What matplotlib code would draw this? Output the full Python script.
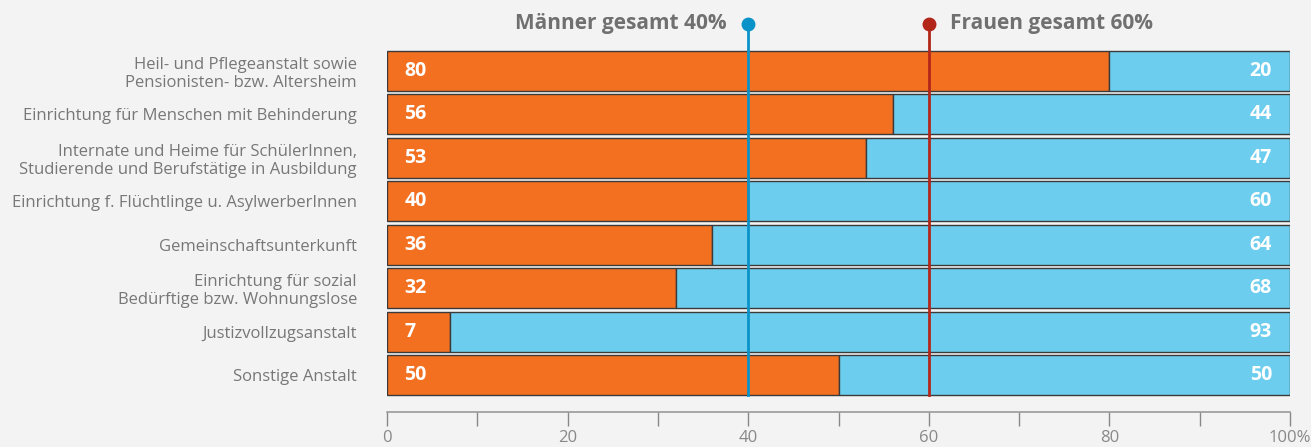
import numpy as np
import matplotlib.pyplot as plt
from matplotlib.ticker import MultipleLocator, FuncFormatter

categories = [
    "Heil- und Pflegeanstalt sowie\nPensionisten- bzw. Altersheim",
    "Einrichtung für Menschen mit Behinderung",
    "Internate und Heime für SchülerInnen,\nStudierende und Berufstätige in Ausbildung",
    "Einrichtung f. Flüchtlinge u. AsylwerberInnen",
    "Gemeinschaftsunterkunft",
    "Einrichtung für sozial\nBedürftige bzw. Wohnungslose",
    "Justizvollzugsanstalt",
    "Sonstige Anstalt",
]
frauen = [80, 56, 53, 40, 36, 32, 7, 50]
maenner = [20, 44, 47, 60, 64, 68, 93, 50]
maenner_gesamt = 40
frauen_gesamt = 60

orange = "#f37021"
blue = "#6dcdee"
line_blue = "#0a93c9"
line_red = "#b3261a"
bg = "#f3f3f3"

plt.rcParams['font.family'] = ['Open Sans', 'DejaVu Sans']

fig = plt.figure(figsize=(13.11, 4.47), dpi=100, facecolor=bg)
ax = fig.add_axes([387 / 1311, 35 / 447, (1290 - 387) / 1311, 412 / 447])
ax.set_facecolor(bg)

y = np.arange(len(categories))
h = 0.92
ax.barh(y, frauen, height=h, color=orange, edgecolor="#3a3a3a", linewidth=1, zorder=2)
ax.barh(y, maenner, left=frauen, height=h, color=blue, edgecolor="#3a3a3a", linewidth=1, zorder=2)

for i in range(len(categories)):
    ax.text(1.9, y[i], str(frauen[i]), color="white", fontsize=14, fontweight="bold",
            ha="left", va="center", zorder=4)
    ax.text(98, y[i], str(maenner[i]), color="white", fontsize=14, fontweight="bold",
            ha="right", va="center", zorder=4)

mark_y = -1.08
bottom = len(categories) - 1 + h / 2
ax.plot([maenner_gesamt, maenner_gesamt], [mark_y, bottom], color=line_blue, lw=2, zorder=3)
ax.plot([frauen_gesamt, frauen_gesamt], [mark_y, bottom], color=line_red, lw=2, zorder=3)
ax.plot(maenner_gesamt, mark_y, "o", color=line_blue, ms=9, zorder=3, clip_on=False)
ax.plot(frauen_gesamt, mark_y, "o", color=line_red, ms=9, zorder=3, clip_on=False)
ax.text(maenner_gesamt - 2.4, mark_y, "Männer gesamt %d%%" % maenner_gesamt, color="#707070",
        fontsize=15, fontweight="bold", ha="right", va="center")
ax.text(frauen_gesamt + 2.4, mark_y, "Frauen gesamt %d%%" % frauen_gesamt, color="#707070",
        fontsize=15, fontweight="bold", ha="left", va="center")

ax.set_xlim(0, 100)
ax.set_ylim(7.84, -1.63)
ax.set_yticks(y)
ax.set_yticklabels(categories, fontsize=12, color="#777777", linespacing=1.15)
ax.tick_params(axis="y", length=0, pad=21.6)

ax.xaxis.set_major_locator(MultipleLocator(10))
ax.xaxis.set_major_formatter(FuncFormatter(
    lambda v, p: "" if int(round(v)) % 20 else ("100%" if v >= 100 else "%d" % v)))
ax.tick_params(axis="x", length=10, width=1, color="#888888", labelcolor="#888888",
               labelsize=12, pad=3)

for s in ["top", "right", "left"]:
    ax.spines[s].set_visible(False)
ax.spines["bottom"].set_color("#999999")
ax.spines["bottom"].set_linewidth(1.2)

plt.savefig("out.png", dpi=100, facecolor=bg)
